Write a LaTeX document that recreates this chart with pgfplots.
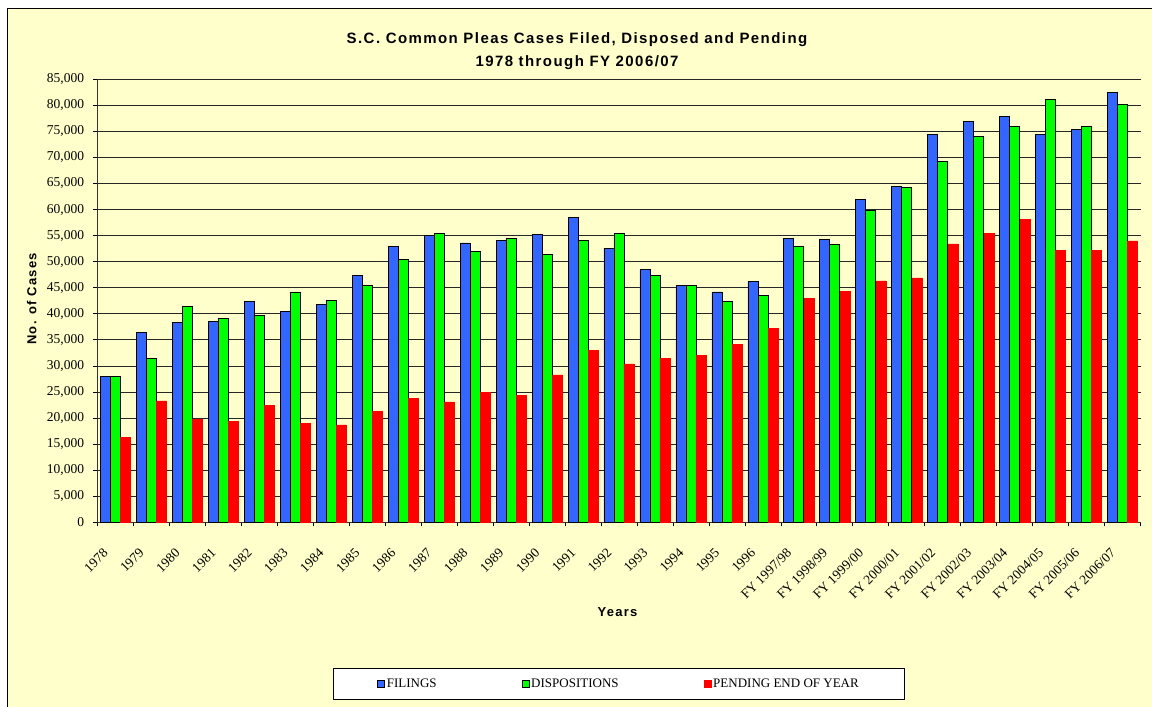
\documentclass[border=0pt]{standalone}
\usepackage{fontspec}
\setmainfont{Liberation Serif}
\newfontfamily\arialb{Liberation Sans}[LetterSpace=9.5]
\usepackage{pgfplots}
\pgfplotsset{compat=1.18}
\definecolor{bgyellow}{HTML}{FFFFCC}
\definecolor{fblue}{HTML}{3366FF}
\definecolor{fgreen}{HTML}{00FF00}
\definecolor{fred}{HTML}{FF0000}
\begin{document}
\begin{tikzpicture}[x=1pt,y=1pt]
\useasboundingbox (0,0) rectangle (1152,707);
\fill[white] (0,0) rectangle (1152,707);
\fill[bgyellow] (7,-5) rectangle (1160,698);
\draw[black, line width=1pt] (7,-5) -- (7,698) -- (1160,698);
\begin{axis}[
  at={(97.3pt,184.7pt)}, anchor=south west,
  scale only axis, width=1043.4pt, height=443pt,
  xmin=-0.5, xmax=28.5, ymin=0, ymax=85000,
  ybar, bar width=10pt,
  axis x line*=bottom, axis y line*=left,
  axis line style={black!80, line width=1pt},
  ytick={0,5000,...,85000},
  scaled y ticks=false,
  /pgf/number format/1000 sep={,},
  /pgf/number format/assume math mode=true,
  ymajorgrids, major grid style={black!85, line width=0.8pt},
  xtick={-0.5,0.5,...,28.5},
  xticklabels={1978,1979,1980,1981,1982,1983,1984,1985,1986,1987,1988,1989,1990,1991,1992,1993,1994,1995,1996,FY 1997/98,FY 1998/99,FY 1999/00,FY 2000/01,FY 2001/02,FY 2002/03,FY 2003/04,FY 2004/05,FY 2005/06,FY 2006/07,{}},
  tick align=outside, major tick length=4pt,
  tick style={black, line width=0.8pt},
  yticklabel style={font=\fontsize{13.5}{13.5}\selectfont, inner sep=0pt, xshift=-9pt},
  xticklabel style={font=\fontsize{13.5}{13.5}\selectfont, inner sep=0pt, anchor=north east, xshift=5pt, yshift=-21pt, rotate=45},
  legend columns=3,
  legend style={at={(0.5,-0.365)}, anchor=center, draw=black, line width=0.8pt, fill=white, font=\fontsize{13}{13}\selectfont, inner xsep=44pt, inner ysep=8.5pt, /tikz/every even column/.append style={column sep=83pt}},
  legend image code/.code={\draw[#1, line width=0.6pt] (0pt,-3.5pt) rectangle (7pt,3.5pt);},
]
\addplot[bar shift=-10pt, fill=fblue, draw=black, line width=0.8pt] coordinates {
(0,27900) (1,36400) (2,38300) (3,38500) (4,42300) (5,40400) (6,41800) (7,47400) (8,52900) (9,55000)
(10,53600) (11,54000) (12,55300) (13,58500) (14,52600) (15,48500) (16,45400) (17,44200) (18,46200)
(19,54400) (20,54300) (21,62000) (22,64400) (23,74400) (24,76900) (25,77800) (26,74400) (27,75400) (28,82500)};
\addplot[bar shift=0pt, fill=fgreen, draw=black, line width=0.8pt] coordinates {
(0,27900) (1,31400) (2,41400) (3,39100) (4,39700) (5,44200) (6,42600) (7,45400) (8,50500) (9,55400)
(10,51900) (11,54500) (12,51400) (13,54000) (14,55400) (15,47400) (16,45400) (17,42300) (18,43500)
(19,52900) (20,53300) (21,59900) (22,64200) (23,69300) (24,74000) (25,75900) (26,81100) (27,75900) (28,80200)};
\addplot[bar shift=10pt, fill=fred, draw=fred, line width=0.5pt] coordinates {
(0,16300) (1,23300) (2,19800) (3,19400) (4,22400) (5,19050) (6,18700) (7,21300) (8,23800) (9,23100)
(10,24900) (11,24400) (12,28300) (13,33000) (14,30400) (15,31500) (16,32100) (17,34100) (18,37200)
(19,43000) (20,44300) (21,46300) (22,46900) (23,53400) (24,55500) (25,58100) (26,52200) (27,52200) (28,54000)};
\legend{FILINGS,DISPOSITIONS,PENDING END OF YEAR}
\end{axis}
\node[font=\arialb\bfseries\fontsize{15}{15}\selectfont, anchor=base] at (577,663.8) {S.C. Common Pleas Cases Filed, Disposed and Pending};
\node[font=\arialb\bfseries\fontsize{15}{15}\selectfont, anchor=base] at (577,640.6) {1978 through FY 2006/07};
\node[font=\arialb\bfseries\fontsize{13}{13}\selectfont, rotate=90] at (31.7,408) {No. of Cases};
\node[font=\arialb\bfseries\fontsize{13}{13}\selectfont, anchor=base] at (617.5,90.3) {Years};
\end{tikzpicture}
\end{document}
